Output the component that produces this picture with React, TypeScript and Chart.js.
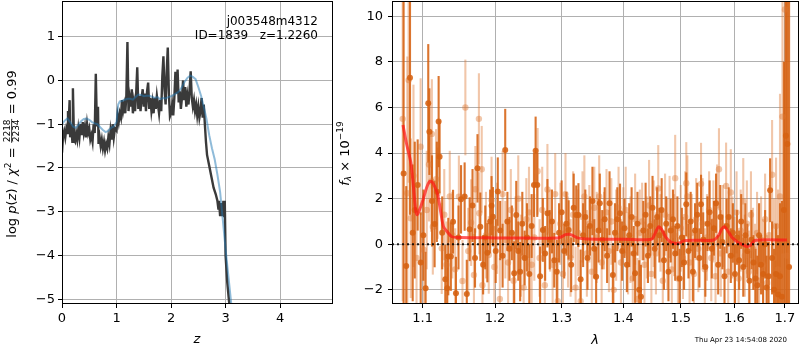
import React, { useEffect, useRef } from "react";
import { Chart, registerables } from "chart.js";
Chart.register(...registerables);

const FONT = "DejaVu Sans";

// ---------- Left panel: log p(z) ----------
const pzZ = [
  0.00, 0.02, 0.04, 0.06, 0.08, 0.10, 0.11, 0.12, 0.14, 0.15,
  0.17, 0.19, 0.20, 0.22, 0.24, 0.26, 0.28, 0.30, 0.32, 0.34,
  0.36, 0.38, 0.40, 0.42, 0.44, 0.46, 0.48, 0.50, 0.52, 0.54,
  0.56, 0.58, 0.60, 0.62, 0.64, 0.66, 0.67, 0.69, 0.71, 0.73,
  0.75, 0.77, 0.79, 0.81, 0.83, 0.85, 0.87, 0.89, 0.91, 0.93,
  0.95, 0.97, 1.00, 1.02, 1.04, 1.06, 1.08, 1.10, 1.12, 1.14,
  1.16, 1.18, 1.20, 1.22, 1.24, 1.26, 1.28, 1.30, 1.32, 1.34,
  1.36, 1.38, 1.40, 1.42, 1.44, 1.46, 1.48, 1.50, 1.52, 1.54,
  1.56, 1.58, 1.60, 1.62, 1.64, 1.66, 1.68, 1.70, 1.72, 1.74,
  1.76, 1.78, 1.80, 1.82, 1.84, 1.86, 1.88, 1.90, 1.92, 1.94,
  1.96, 1.98, 2.00, 2.02, 2.04, 2.06, 2.08, 2.10, 2.12, 2.14,
  2.16, 2.18, 2.20, 2.22, 2.24, 2.26, 2.28, 2.30, 2.32, 2.34,
  2.36, 2.38, 2.40, 2.42, 2.44, 2.46, 2.48, 2.50, 2.52, 2.54,
  2.56, 2.58, 2.60, 2.62, 2.64, 2.66, 2.70, 2.74, 2.78, 2.82,
  2.85, 2.87, 2.88, 2.90, 2.92, 2.94, 2.96, 2.975, 2.985, 3.00,
  3.03, 3.06, 3.10,
];
const pzLog = [
  -1.65, -1.25, -1.15, -1.30, -1.10, -1.20, -0.70, -1.05, -0.45, -1.30,
  -1.00, -1.40, -0.18, -1.35, -1.40, -1.20, -1.35, -1.10, -1.30, -1.00,
  -1.25, -0.95, -1.20, -1.05, -1.30, -1.00, -1.20, -1.10, -1.35, -1.25,
  -1.40, -1.00, -1.20, 0.15, -1.05, -0.60, -1.45, -1.30, -1.50, -1.35,
  -1.55, -1.40, -1.60, -1.45, -1.55, -1.30, -1.45, -1.15, -1.35, -1.00,
  -1.30, -1.10, -1.15, -0.80, -0.95, -0.75, -0.85, -0.45, -0.70, -0.55,
  -0.75, -0.35, 0.88, -0.70, -0.40, -0.60, -0.20, -0.75, -0.50, -0.70,
  -0.30, 0.30, -0.65, -0.35, -0.70, -0.40, -0.20, -0.60, -0.30, -0.70,
  -0.25, -0.05, -0.65, -0.40, -0.70, -0.50, -0.75, -0.40, -0.65, -0.35,
  -0.55, -0.75, -0.45, -0.70, 0.10, 0.55, -0.20, -0.55, 0.20, 0.75,
  -0.30, -0.82, -0.75, -0.55, -0.80, -0.40, 0.20, -0.30, 0.25, -0.50,
  -0.25, -0.65, -0.40, 0.00, -0.45, -0.15, -0.60, -0.35, -0.55, -0.20,
  0.21, -0.40, -0.60, -0.45, -0.70, -0.55, -0.80, -0.60, -0.85, -0.70,
  -0.40, -0.85, -0.55, -1.00, -1.40, -1.70, -1.95, -2.20, -2.45, -2.60,
  -2.75, -2.95, -2.75, -3.10, -2.80, -3.10, -2.75, -3.10, -2.75, -4.00,
  -4.60, -5.00, -5.50,
];
const fitZ = [
  0.00, 0.05, 0.10, 0.15, 0.20, 0.25, 0.30, 0.35, 0.40, 0.45,
  0.50, 0.55, 0.60, 0.65, 0.70, 0.75, 0.80, 0.85, 0.90, 0.95,
  1.00, 1.03, 1.06, 1.10, 1.15, 1.20, 1.25, 1.30, 1.35, 1.40,
  1.45, 1.50, 1.55, 1.60, 1.65, 1.70, 1.75, 1.80, 1.85, 1.90,
  1.95, 2.00, 2.05, 2.10, 2.15, 2.20, 2.25, 2.30, 2.35, 2.40,
  2.45, 2.50, 2.55, 2.60, 2.65, 2.70, 2.75, 2.80, 2.85, 2.90,
  2.95, 3.00, 3.05, 3.10, 3.15,
];
const fitLog = [
  -1.00, -0.92, -0.87, -0.95, -1.05, -1.08, -1.02, -0.93, -0.88, -0.87,
  -0.90, -0.95, -0.98, -1.00, -1.07, -1.13, -1.18, -1.15, -1.08, -1.05,
  -0.95, -0.55, -0.48, -0.47, -0.44, -0.42, -0.42, -0.44, -0.38, -0.32,
  -0.33, -0.36, -0.35, -0.35, -0.37, -0.40, -0.38, -0.43, -0.40, -0.41,
  -0.38, -0.36, -0.33, -0.29, -0.25, -0.15, -0.03, 0.06, 0.11, 0.08,
  0.03, -0.15, -0.35, -0.60, -0.88, -1.25, -1.55, -1.80, -2.15, -2.55,
  -3.20, -3.85, -4.45, -5.05, -5.65,
];
const leftXTicks = [0, 1, 2, 3, 4];
const leftYTicks = [-5, -4, -3, -2, -1, 0, 1];

// ---------- Right panel: spectrum ----------
const darkWave = [
  1.0752, 1.0786, 1.0835, 1.0870, 1.0897, 1.0935, 1.0975, 1.1010, 1.1040, 1.1075,
  1.1090, 1.1125, 1.1160, 1.1190, 1.1214, 1.1227, 1.1262, 1.1304, 1.1331, 1.1345,
  1.1380, 1.1410, 1.1450, 1.1485, 1.1520, 1.1570, 1.1600, 1.1640, 1.1680, 1.1715,
  1.1750, 1.1790, 1.1830, 1.1860, 1.1890, 1.1930, 1.1950, 1.1970, 1.2010, 1.2040,
  1.2075, 1.2110, 1.2148, 1.2180, 1.2210, 1.2245, 1.2280, 1.2310, 1.2340, 1.2368,
  1.2400, 1.2435, 1.2470, 1.2505, 1.2540, 1.2575, 1.2600, 1.2625, 1.2668, 1.2710,
  1.2745, 1.2780, 1.2815, 1.2850, 1.2885, 1.2925, 1.2960, 1.3000, 1.3040, 1.3075,
  1.3110, 1.3150, 1.3190, 1.3230, 1.3265, 1.3300, 1.3340, 1.3375, 1.3410, 1.3450,
  1.3490, 1.3520, 1.3550, 1.3590, 1.3610, 1.3650, 1.3690, 1.3730, 1.3770, 1.3825,
  1.3860, 1.3900, 1.3945, 1.3980, 1.4020, 1.4060, 1.4100, 1.4140, 1.4175, 1.4200,
  1.4240, 1.4270, 1.4300, 1.4340, 1.4380, 1.4420, 1.4460, 1.4500, 1.4540, 1.4580,
  1.4620, 1.4660, 1.4700, 1.4740, 1.4780, 1.4820, 1.4860, 1.4900, 1.4940, 1.4980,
  1.5020, 1.5060, 1.5100, 1.5140, 1.5180, 1.5220, 1.5260, 1.5300, 1.5340, 1.5370,
  1.5410, 1.5450, 1.5490, 1.5530, 1.5570, 1.5610, 1.5650, 1.5690, 1.5730, 1.5770,
  1.5810, 1.5850, 1.5890, 1.5930, 1.5970, 1.6010, 1.6050, 1.6090, 1.6130, 1.6170,
  1.6210, 1.6250, 1.6290, 1.6330, 1.6370, 1.6410, 1.6445, 1.6480, 1.6520, 1.6560,
  1.6600, 1.6630, 1.6670, 1.6700, 1.6740, 1.6780, 1.6820, 1.6860, 1.6900, 1.6940,
  1.6980, 1.7020, 1.7050, 1.7085,
];
const darkFlux = [
  3.1, -0.95, 7.3, 0.5, 1.5, 2.6, -0.8, 0.4, -1.93, 6.18,
  4.94, 1.9, 0.89, 2.3, 5.38, 3.84, 0.5, -1.53, -1.93, -0.54,
  -0.54, 0.99, -2.15, 0.3, 1.97, 2.09, -2.18, 0.66, 1.7, -0.6,
  3.33, 0.77, -0.9, 0.3, -0.37, 1.0, 1.69, 1.21, -0.3, 2.31,
  0.6, -0.5, 4.14, 1.0, -0.2, 0.5, -1.27, 1.28, -0.3, -1.2,
  0.9, -0.6, 0.3, -1.3, 0.8, 2.6, 4.1, 2.6, -1.4, 0.63,
  -0.4, 1.36, 0.2, 1.0, -0.7, -1.2, 0.5, 1.4, -0.3, 0.9,
  0.63, -0.9, 1.6, 1.28, 1.28, -1.53, 0.4, 1.2, -0.6, 0.8,
  1.9, -0.2, -1.42, 0.6, 1.8, 0.2, 1.1, -0.5, 1.8, -1.35,
  0.5, 1.1, 1.36, -0.3, 0.7, -0.9, 0.4, 1.2, -0.4, -1.27,
  0.9, -2.0, -2.3, 0.6, 1.3, -0.5, 0.8, 1.6, -0.2, 1.2,
  0.4, 1.5, -0.7, 0.9, -1.2, 0.6, 1.1, -0.4, 0.8, -1.5,
  0.3, -0.8, 1.75, -0.3, 1.0, -1.2, 0.6, 1.3, -0.6, 1.75,
  0.2, -1.0, 0.9, 1.4, -0.2, 0.7, 1.8, -0.9, 1.2, 0.1,
  -1.4, 0.8, 1.2, -0.5, 0.5, -1.3, 0.3, -0.7, 1.0, -1.0,
  0.4, -0.3, -1.6, 0.2, -0.8, -1.5, -1.8, 0.4, -0.9, -1.3,
  0.0, -1.9, -1.4, 2.37, -0.6, -2.0, -1.3, -2.2, -1.4, -2.3,
  1.5, 4.76, 4.4, -1.0,
];
const darkErr = [
  8.0, 3.5, 6.0, 3.0, 3.0, 2.0, 2.2, 2.0, 1.6, 2.6,
  1.9, 2.0, 1.9, 2.2, 2.0, 1.6, 1.6, 1.5, 1.5, 1.7,
  1.5, 1.4, 1.6, 1.4, 1.5, 1.5, 1.5, 1.4, 1.6, 1.3,
  1.5, 1.5, 1.3, 1.4, 1.3, 1.4, 1.3, 1.3, 1.4, 1.5,
  1.3, 1.4, 1.8, 1.3, 1.4, 1.2, 1.4, 1.5, 1.3, 1.3,
  1.4, 1.2, 1.5, 1.3, 1.4, 1.4, 1.5, 1.4, 1.3, 1.4,
  1.2, 1.5, 1.3, 1.4, 1.2, 1.4, 1.3, 1.4, 1.2, 1.4,
  1.3, 1.2, 1.5, 1.3, 1.4, 1.3, 1.4, 1.2, 1.4, 1.3,
  1.5, 1.3, 1.3, 1.4, 1.3, 1.3, 1.4, 1.2, 1.4, 1.3,
  1.3, 1.4, 1.3, 1.3, 1.3, 1.2, 1.4, 1.3, 1.2, 1.3,
  1.4, 1.3, 1.4, 1.3, 1.4, 1.2, 1.3, 1.4, 1.3, 1.3,
  1.2, 1.4, 1.3, 1.2, 1.3, 1.4, 1.3, 1.2, 1.3, 1.3,
  1.3, 1.2, 1.4, 1.2, 1.3, 1.3, 1.2, 1.4, 1.3, 1.3,
  1.2, 1.3, 1.2, 1.4, 1.3, 1.2, 1.3, 1.3, 1.4, 1.2,
  1.3, 1.2, 1.3, 1.2, 1.3, 1.3, 1.2, 1.3, 1.2, 1.3,
  1.4, 1.2, 1.3, 1.3, 1.2, 1.3, 1.3, 1.4, 1.3, 1.4,
  1.5, 1.4, 1.5, 1.4, 1.6, 1.8, 2.2, 2.6, 3.2, 4.2,
  6.5, 9.0, 12.0, 14.0,
];
const lightWave = [
  1.0740, 1.0800, 1.0817, 1.0845, 1.0880, 1.0920, 1.0974, 1.1018, 1.1055, 1.1085,
  1.1114, 1.1123, 1.1136, 1.1180, 1.1200, 1.1256, 1.1290, 1.1320, 1.1365, 1.1400,
  1.1440, 1.1490, 1.1540, 1.1580, 1.1620, 1.1660, 1.1700, 1.1720, 1.1770, 1.1775,
  1.1810, 1.1820, 1.1870, 1.1910, 1.1950, 1.1990, 1.2030, 1.2070, 1.2110, 1.2150,
  1.2190, 1.2230, 1.2270, 1.2300, 1.2340, 1.2380, 1.2420, 1.2460, 1.2500, 1.2540,
  1.2580, 1.2630, 1.2660, 1.2700, 1.2740, 1.2780, 1.2820, 1.2860, 1.2900, 1.2940,
  1.2980, 1.3020, 1.3060, 1.3100, 1.3140, 1.3180, 1.3220, 1.3260, 1.3300, 1.3330,
  1.3360, 1.3400, 1.3440, 1.3480, 1.3520, 1.3560, 1.3600, 1.3640, 1.3680, 1.3720,
  1.3760, 1.3800, 1.3840, 1.3880, 1.3920, 1.3960, 1.4000, 1.4040, 1.4080, 1.4120,
  1.4160, 1.4200, 1.4240, 1.4280, 1.4320, 1.4360, 1.4400, 1.4440, 1.4480, 1.4520,
  1.4560, 1.4600, 1.4640, 1.4680, 1.4720, 1.4760, 1.4800, 1.4840, 1.4880, 1.4900,
  1.4950, 1.5000, 1.5040, 1.5080, 1.5100, 1.5120, 1.5160, 1.5200, 1.5240, 1.5280,
  1.5320, 1.5370, 1.5400, 1.5440, 1.5480, 1.5520, 1.5560, 1.5600, 1.5640, 1.5670,
  1.5705, 1.5740, 1.5780, 1.5840, 1.5880, 1.5930, 1.5960, 1.6000, 1.6040, 1.6080,
  1.6120, 1.6170, 1.6200, 1.6240, 1.6280, 1.6320, 1.6360, 1.6400, 1.6440, 1.6480,
  1.6520, 1.6560, 1.6600, 1.6640, 1.6680, 1.6740, 1.6780, 1.6820, 1.6860, 1.6900,
  1.6950, 1.7000, 1.7040,
];
const lightFlux = [
  5.5, 2.24, 7.2, 1.14, 3.0, -0.6, 4.28, -0.25, 1.5, 3.5,
  2.75, 4.84, 0.77, 2.85, 2.24, -0.18, 1.3, -0.9, 2.1, 0.4,
  -1.1, 2.09, -1.61, 6.0, -0.3, 0.95, -1.35, 2.41, 5.5, 1.36,
  3.29, -1.8, 0.4, -0.47, 1.94, -1.0, 0.7, -2.4, 2.2, 0.2,
  -0.8, 1.5, -1.6, 0.4, 2.0, -0.5, -1.9, 1.1, 1.4, -0.9,
  0.3, 3.2, -0.6, 1.5, -1.8, 2.4, 0.6, -0.9, 2.2, -2.5,
  0.9, -1.3, 2.2, 0.1, -0.6, 1.3, -1.9, 0.5, -2.5, 1.2,
  2.1, -0.4, 0.9, -1.2, 1.6, 0.3, 2.1, -0.8, 0.6, 1.4,
  -0.3, 1.0, -2.0, 0.4, 1.6, -0.8, 0.8, 1.5, -0.4, 0.2,
  -1.5, 1.1, -2.4, 0.5, 1.0, -0.9, 0.3, 1.7, -1.3, 0.9,
  -0.4, 2.45, 0.5, -1.6, 1.3, 0.0, 1.2, -1.1, 0.4, 2.9,
  -1.5, 0.7, -0.6, 1.2, 2.68, 2.1, -0.8, 0.5, -1.3, 1.1,
  -0.2, 2.65, 0.9, -1.1, 0.3, 1.5, -0.6, 1.0, -1.4, 1.7,
  3.29, -0.4, 0.8, 2.56, -1.2, 2.27, 0.3, -0.7, 1.4, -1.5,
  0.6, 1.88, -0.5, 0.9, -1.2, 1.3, -0.2, -1.0, 0.5, -1.6,
  0.2, -0.9, 1.1, -1.7, 0.4, 3.05, -0.6, 0.8, -1.1, 2.1,
  5.6, 10.3, -0.5,
];
const lightErr = [
  8.0, 6.0, 4.5, 3.5, 4.0, 3.2, 3.0, 2.4, 2.6, 2.5,
  2.2, 2.4, 2.1, 2.2, 2.0, 2.0, 2.0, 1.9, 2.0, 1.9,
  1.8, 1.8, 1.8, 2.1, 1.9, 1.9, 1.8, 1.9, 2.0, 1.8,
  1.9, 1.8, 1.9, 1.7, 1.9, 1.8, 2.0, 1.8, 1.9, 1.7,
  1.9, 1.8, 2.0, 1.7, 1.9, 1.8, 1.9, 1.8, 2.0, 1.8,
  1.9, 1.9, 1.7, 1.9, 1.8, 2.0, 1.8, 1.9, 1.8, 1.9,
  1.8, 1.9, 1.8, 2.0, 1.7, 1.9, 1.8, 1.9, 1.8, 2.0,
  1.8, 1.9, 1.7, 1.9, 1.8, 2.0, 1.8, 1.9, 1.7, 1.9,
  1.8, 1.9, 1.8, 2.0, 1.8, 1.9, 1.7, 1.9, 1.8, 1.9,
  1.8, 2.0, 1.8, 1.9, 1.7, 1.9, 1.8, 2.0, 1.8, 1.9,
  1.8, 1.9, 1.7, 1.9, 1.8, 2.0, 1.8, 1.9, 1.8, 1.9,
  1.8, 1.9, 1.8, 2.0, 1.8, 1.8, 1.9, 1.7, 1.9, 1.8,
  1.9, 1.8, 2.0, 1.8, 1.9, 1.7, 1.9, 1.8, 2.0, 1.8,
  1.8, 1.9, 1.8, 1.9, 1.8, 1.9, 1.8, 1.9, 1.8, 1.9,
  1.8, 1.9, 1.8, 1.9, 1.8, 1.9, 1.8, 1.9, 1.8, 1.9,
  1.9, 2.0, 2.0, 2.1, 2.2, 2.4, 2.6, 3.0, 3.5, 4.5,
  6.0, 10.0, 12.0,
];
const modelWave = [
  1.0744, 1.0787, 1.0847, 1.0880, 1.0911, 1.0930, 1.0970, 1.1005, 1.1050, 1.1093,
  1.1130, 1.1165, 1.1200, 1.1245, 1.1280, 1.1330, 1.1395, 1.1500, 1.2000, 1.2500,
  1.2924, 1.3000, 1.3060, 1.3120, 1.3180, 1.3250, 1.3400, 1.4000, 1.4480, 1.4540,
  1.4603, 1.4660, 1.4735, 1.4820, 1.4900, 1.4980, 1.5065, 1.5300, 1.5608, 1.5700,
  1.5760, 1.5808, 1.5870, 1.5950, 1.6060, 1.6168, 1.6245, 1.6310, 1.6390, 1.6500,
  1.7040,
];
const modelFlux = [
  5.23, 4.45, 3.55, 2.5, 1.45, 1.3, 1.6, 1.94, 2.45, 2.75,
  2.72, 2.5, 2.2, 1.36, 0.77, 0.55, 0.33, 0.3, 0.28, 0.27,
  0.27, 0.33, 0.42, 0.44, 0.38, 0.28, 0.23, 0.22, 0.22, 0.45,
  0.76, 0.65, 0.3, 0.1, 0.04, 0.06, 0.16, 0.18, 0.19, 0.4,
  0.68, 0.77, 0.6, 0.31, 0.1, -0.03, -0.1, -0.05, 0.16, 0.19,
  0.19,
];
const zeroWave = [1.0603, 1.729];
const zeroFlux = [0, 0];
const rightXTicks = [1.1, 1.2, 1.3, 1.4, 1.5, 1.6, 1.7];
const rightYTicks = [-2, 0, 2, 4, 6, 8, 10];

const DARK = "rgba(214,98,18,0.88)";
const LIGHT = "rgba(222,120,50,0.42)";
const GRID = "#b0b0b0";

const fmt = (v: number) => (v < 0 ? "\u2212" + String(Math.abs(v)) : String(v));
const pts = (xs: number[], ys: number[]) => xs.map((x, i) => ({ x, y: ys[i] }));

type Piece = { t?: string; num?: string; den?: string; font: string; dy?: number };

function drawPieces(ctx: CanvasRenderingContext2D, pieces: Piece[], cx: number, cy: number, base: number) {
  ctx.save();
  ctx.translate(cx, cy);
  ctx.rotate(-Math.PI / 2);
  ctx.fillStyle = "#000";
  ctx.textBaseline = "alphabetic";
  const widths = pieces.map((p) => {
    ctx.font = p.font;
    if (p.num !== undefined) {
      return Math.max(ctx.measureText(p.num).width, ctx.measureText(p.den || "").width) + 2;
    }
    return ctx.measureText(p.t || "").width;
  });
  const total = widths.reduce((a, b) => a + b, 0);
  let x = -total / 2;
  pieces.forEach((p, i) => {
    ctx.font = p.font;
    const w = widths[i];
    if (p.num !== undefined) {
      ctx.textAlign = "center";
      ctx.fillText(p.num, x + w / 2, -2.2);
      ctx.fillText(p.den || "", x + w / 2, 7.6);
      ctx.fillRect(x + 0.5, -0.4, w - 1, 0.8);
      ctx.textAlign = "left";
    } else {
      ctx.textAlign = "left";
      ctx.fillText(p.t || "", x, base + (p.dy || 0));
    }
    x += w;
  });
  ctx.restore();
}

const framePlugin = {
  id: "frame",
  afterDraw(chart: any) {
    const { ctx, chartArea: a } = chart;
    ctx.save();
    ctx.strokeStyle = "#000";
    ctx.lineWidth = 1;
    ctx.strokeRect(Math.round(a.left) + 0.5, Math.round(a.top) + 0.5, Math.round(a.right - a.left) - 1, Math.round(a.bottom - a.top) - 1);
    ctx.restore();
  },
};

const leftTextPlugin = {
  id: "leftText",
  afterDraw(chart: any) {
    const ctx = chart.ctx as CanvasRenderingContext2D;
    ctx.save();
    ctx.fillStyle = "#000";
    ctx.font = `12px ${FONT}`;
    ctx.textAlign = "right";
    ctx.textBaseline = "alphabetic";
    ctx.fillText("j003548m4312", 318, 24.5);
    ctx.fillText("ID=1839   z=1.2260", 318, 39);
    ctx.font = `italic 13px ${FONT}`;
    ctx.textAlign = "center";
    ctx.fillText("z", 197, 343);
    ctx.restore();
    const N = `13px ${FONT}`;
    const I = `italic 13px ${FONT}`;
    const S = `9px ${FONT}`;
    drawPieces(
      ctx,
      [
        { t: "log ", font: N },
        { t: "p", font: I },
        { t: "(", font: N },
        { t: "z", font: I },
        { t: ") / ", font: N },
        { t: "\u03c7", font: I },
        { t: "2", font: S, dy: -5.5 },
        { t: " = ", font: N },
        { num: "2218", den: "2234", font: S },
        { t: " = 0.99", font: N },
      ],
      11.7,
      154,
      4.7
    );
  },
};

const errorBarPlugin = {
  id: "errbars",
  beforeDatasetsDraw(chart: any) {
    const { ctx, chartArea: a, scales } = chart;
    const xs = scales.x;
    const ys = scales.y;
    ctx.save();
    ctx.beginPath();
    ctx.rect(a.left, a.top, a.right - a.left, a.bottom - a.top);
    ctx.clip();
    ctx.lineWidth = 2.1;
    ctx.lineCap = "butt";
    const series = [
      { w: lightWave, f: lightFlux, e: lightErr, c: LIGHT },
      { w: darkWave, f: darkFlux, e: darkErr, c: DARK },
    ];
    series.forEach((s) => {
      ctx.strokeStyle = s.c;
      s.w.forEach((w, i) => {
        const px = xs.getPixelForValue(w);
        const y1 = ys.getPixelForValue(s.f[i] - s.e[i]);
        const y2 = ys.getPixelForValue(s.f[i] + s.e[i]);
        ctx.beginPath();
        ctx.moveTo(px, y1);
        ctx.lineTo(px, y2);
        ctx.stroke();
      });
    });
    ctx.restore();
  },
};

const rightTextPlugin = {
  id: "rightText",
  afterDraw(chart: any) {
    const ctx = chart.ctx as CanvasRenderingContext2D;
    const OX = 320;
    ctx.save();
    ctx.fillStyle = "#000";
    ctx.font = `italic 13px ${FONT}`;
    ctx.textAlign = "center";
    ctx.textBaseline = "alphabetic";
    ctx.fillText("\u03bb", 595 - OX, 344);
    ctx.font = `7px ${FONT}`;
    ctx.textAlign = "right";
    ctx.fillText("Thu Apr 23 14:54:08 2020", 787 - OX, 342);
    ctx.restore();
    const N = `13px ${FONT}`;
    const I = `italic 13px ${FONT}`;
    const SI = `italic 9px ${FONT}`;
    const S = `9px ${FONT}`;
    drawPieces(
      ctx,
      [
        { t: "f", font: I },
        { t: "\u03bb", font: SI, dy: 2.5 },
        { t: " \u00d7 10", font: N },
        { t: "\u221219", font: S, dy: -6 },
      ],
      344 - OX,
      153.5,
      4.7
    );
  },
};

function axisBase(ticksArr: number[], fitKey: "width" | "height", fitVal: number, pad: number, fmtFn: (v: number) => string) {
  return {
    bounds: "data",
    afterBuildTicks: (s: any) => {
      s.ticks = ticksArr.map((v) => ({ value: v }));
    },
    afterFit: (s: any) => {
      s[fitKey] = fitVal;
      s.paddingTop = 0;
      s.paddingBottom = 0;
      s.paddingLeft = 0;
      s.paddingRight = 0;
    },
    grid: { color: GRID, lineWidth: 1, drawTicks: true, tickLength: 4, tickColor: "#000", tickWidth: 1 },
    border: { display: false },
    ticks: {
      color: "#000",
      font: { family: FONT, size: 13 },
      padding: pad,
      maxRotation: 0,
      minRotation: 0,
      autoSkip: false,
      callback: (v: any) => fmtFn(Number(v)),
    },
  };
}

export default function App() {
  const leftRef = useRef<HTMLCanvasElement>(null);
  const rightRef = useRef<HTMLCanvasElement>(null);

  useEffect(() => {
    const left = new Chart(leftRef.current as HTMLCanvasElement, {
      type: "scatter",
      data: {
        datasets: [
          {
            data: pts(fitZ, fitLog),
            showLine: true,
            borderColor: "rgba(31,119,180,0.5)",
            borderWidth: 2,
            pointRadius: 0,
            tension: 0,
            clip: 0,
          } as any,
          {
            data: pts(pzZ, pzLog),
            showLine: true,
            borderColor: "#3a3a3a",
            borderWidth: 2.4,
            pointRadius: 0,
            tension: 0,
            clip: 0,
          } as any,
        ],
      },
      options: {
        responsive: false,
        animation: false,
        devicePixelRatio: 1,
        events: [],
        layout: { autoPadding: false, padding: { left: 0, right: 7, top: 1, bottom: 0 } },
        plugins: { legend: { display: false }, tooltip: { enabled: false } },
        scales: {
          x: { type: "linear", min: 0, max: 4.97, ...axisBase(leftXTicks, "height", 46, 3, fmt) } as any,
          y: { type: "linear", min: -5.107, max: 1.815, ...axisBase(leftYTicks, "width", 62, 3, fmt) } as any,
        },
      },
      plugins: [framePlugin, leftTextPlugin],
    });

    const right = new Chart(rightRef.current as HTMLCanvasElement, {
      type: "scatter",
      data: {
        datasets: [
          {
            data: pts(zeroWave, zeroFlux),
            showLine: true,
            borderColor: "rgba(0,0,0,0.85)",
            borderWidth: 2,
            borderDash: [2, 3],
            pointRadius: 0,
            clip: 0,
          } as any,
          {
            data: pts(modelWave, modelFlux),
            showLine: true,
            borderColor: "rgba(255,20,20,0.7)",
            borderWidth: 3,
            pointRadius: 0,
            tension: 0.3,
            clip: 0,
          } as any,
          {
            data: pts(darkWave, darkFlux),
            pointRadius: 3,
            pointBackgroundColor: DARK,
            pointBorderWidth: 0,
            clip: 0,
          } as any,
          {
            data: pts(lightWave, lightFlux),
            pointRadius: 3.2,
            pointBackgroundColor: LIGHT,
            pointBorderWidth: 0,
            clip: 0,
          } as any,
        ],
      },
      options: {
        responsive: false,
        animation: false,
        devicePixelRatio: 1,
        events: [],
        layout: { autoPadding: false, padding: { left: 0, right: 1, top: 1, bottom: 0 } },
        plugins: { legend: { display: false }, tooltip: { enabled: false } },
        scales: {
          x: { type: "logarithmic", min: 1.0603, max: 1.729, ...axisBase(rightXTicks, "height", 46, 3, (v) => v.toFixed(1)) } as any,
          y: { type: "linear", min: -2.62, max: 10.67, ...axisBase(rightYTicks, "width", 72, 5, fmt) } as any,
        },
      },
      plugins: [framePlugin, errorBarPlugin, rightTextPlugin],
    });

    return () => {
      left.destroy();
      right.destroy();
    };
  }, []);

  return (
    <div style={{ position: "fixed", left: 0, top: 0, width: 800, height: 350, background: "#fff" }}>
      <canvas ref={leftRef} width={340} height={350} style={{ position: "absolute", left: 0, top: 0, width: 340, height: 350 }} />
      <canvas ref={rightRef} width={480} height={350} style={{ position: "absolute", left: 320, top: 0, width: 480, height: 350 }} />
    </div>
  );
}
